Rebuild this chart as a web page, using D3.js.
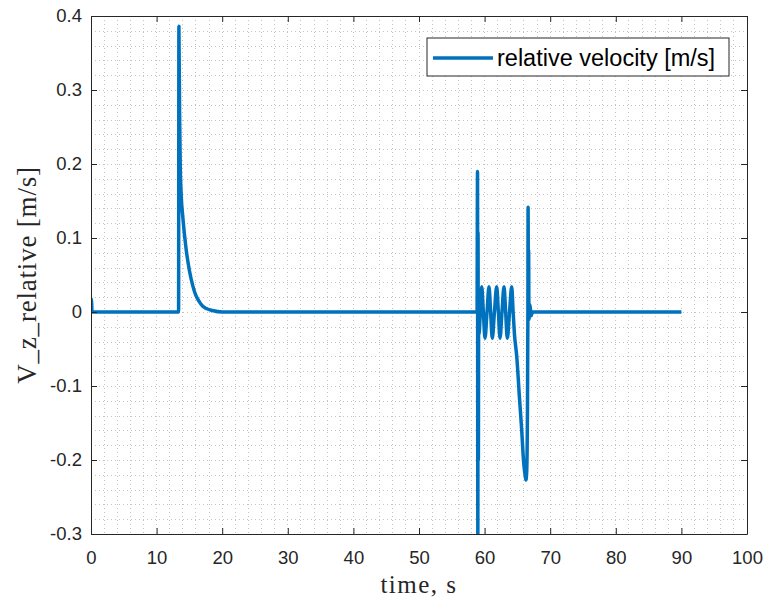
<!DOCTYPE html>
<html>
<head>
<meta charset="utf-8">
<script src="https://cdn.jsdelivr.net/npm/d3@7"></script>
<style>
  body { margin: 0; background: #fff; }
  .tick text { font-family: "Liberation Sans", Arial, sans-serif; font-size: 18.5px; fill: #262626; }
</style>
</head>
<body>
<svg id="chart" width="766" height="601"></svg>
<script>
// time samples [s]
var timeValues = [
  0, 0.05, 0.1, 0.15, 13.35,
  13.4, 13.5, 13.6, 13.75, 14.0, 14.5, 15.0, 15.5, 16.0, 16.5, 17.0, 17.5, 18.5, 20.0,
  58.85, 58.92, 58.97, 59.0, 59.05, 59.1, 59.15, 59.35,
  59.56, 59.81, 60.06, 60.37, 60.67, 60.92, 61.17, 61.5, 61.84, 62.1, 62.35, 62.65,
  62.96, 63.21, 63.46, 63.8, 64.13, 64.35, 64.55, 64.9, 65.3, 65.65, 65.96, 66.2, 66.3,
  66.42, 66.52, 66.6, 66.63, 66.68, 66.71, 66.76, 66.9, 67.1, 67.3, 90
];
// relative velocity [m/s]
var velocityValues = [
  0, 0.018, 0.012, 0, 0,
  0.386, 0.27, 0.2, 0.158, 0.128, 0.085, 0.056, 0.036, 0.022, 0.014, 0.008, 0.005, 0.002, 0,
  0, 0.19, -0.31, 0.108, -0.2, 0.03, -0.03, 0,
  0.034, 0, -0.0355, 0, 0.034, 0, -0.0355, 0, 0.034, 0, -0.0355, 0,
  0.034, 0, -0.0355, 0, 0.034, 0, -0.03, -0.06, -0.114, -0.159, -0.204, -0.222, -0.227,
  -0.215, -0.15, 0, 0.1415, 0, 0.084, -0.01, 0.01, -0.005, 0, 0
];
var xTicks = [0, 10, 20, 30, 40, 50, 60, 70, 80, 90, 100];
var yTicks = [-0.3, -0.2, -0.1, 0, 0.1, 0.2, 0.3, 0.4];
var legendLabel = "relative velocity [m/s]";

var data = timeValues.map(function (t, i) { return {t: t, v: velocityValues[i]}; });

const svg = d3.select("#chart"),
    margin = {top: 16, right: 19, bottom: 67, left: 91},
    width = +svg.attr("width"),
    height = +svg.attr("height"),
    w = width - margin.left - margin.right,
    h = height - margin.top - margin.bottom;

const x = d3.scaleLinear().domain([0, 100]).range([0, w]);
const y = d3.scaleLinear().domain([-0.3, 0.4]).range([h, 0]);

const g = svg.append("g")
    .attr("transform", "translate(" + margin.left + "," + margin.top + ")");

g.append("rect").attr("width", w).attr("height", h).attr("fill", "#fff");

// minor + major grid, all dotted like matlab's grid minor
var xGrid = d3.range(0, 101, 2), yGrid = d3.range(-30, 41, 2).map(function (d) { return d / 100; });
g.append("g").selectAll("line").data(xGrid).enter().append("line")
    .attr("x1", function (d) { return x(d); }).attr("x2", function (d) { return x(d); })
    .attr("y1", 0).attr("y2", h)
    .attr("stroke", "#c4c4c4").attr("stroke-width", 1).attr("stroke-dasharray", "1,3")
    .attr("shape-rendering", "crispEdges");
g.append("g").selectAll("line").data(yGrid).enter().append("line")
    .attr("y1", function (d) { return Math.round(y(d)) + 0.5; }).attr("y2", function (d) { return Math.round(y(d)) + 0.5; })
    .attr("x1", 0).attr("x2", w)
    .attr("stroke", "#c4c4c4").attr("stroke-width", 1).attr("stroke-dasharray", "1,3");

g.append("clipPath").attr("id", "clip")
    .append("rect").attr("width", w).attr("height", h);

var line = d3.line()
    .x(function (d) { return x(d.t); })
    .y(function (d) { return y(d.v); })
    .curve(d3.curveMonotoneX);

g.append("path")
    .datum(data)
    .attr("clip-path", "url(#clip)")
    .attr("fill", "none")
    .attr("stroke", "#0072BD")
    .attr("stroke-width", 3.5)
    .attr("stroke-linejoin", "round")
    .attr("d", line);

// axes with inward ticks, box on; matlab prints a plain hyphen for minus
var fmt = function (d) { return String(Math.round(d * 10) / 10); };
g.append("g").attr("transform", "translate(0," + h + ")")
    .call(d3.axisBottom(x).tickValues(xTicks).tickSizeInner(-6).tickSizeOuter(0).tickPadding(17));
g.append("g")
    .call(d3.axisTop(x).tickValues(xTicks).tickSizeInner(-6).tickSizeOuter(0).tickFormat(""));
g.append("g")
    .call(d3.axisLeft(y).tickValues(yTicks).tickSizeInner(-6).tickSizeOuter(0).tickPadding(9).tickFormat(fmt));
g.append("g").attr("transform", "translate(" + w + ",0)")
    .call(d3.axisRight(y).tickValues(yTicks).tickSizeInner(-6).tickSizeOuter(0).tickFormat(""));
g.selectAll(".domain, .tick line").attr("stroke", "#262626");

// axis labels
svg.append("text")
    .attr("x", margin.left + w / 2).attr("y", 593)
    .attr("text-anchor", "middle")
    .style("font-family", "'Liberation Serif', 'Times New Roman', serif")
    .style("font-size", "25px").style("letter-spacing", "1.5px").attr("fill", "#262626")
    .text("time, s");
svg.append("text")
    .attr("transform", "translate(36," + (margin.top + h / 2) + ") rotate(-90)")
    .attr("text-anchor", "middle")
    .style("font-family", "'Liberation Serif', 'Times New Roman', serif")
    .style("font-size", "27px").style("letter-spacing", "0.8px").attr("fill", "#262626")
    .text("V_z_relative [m/s]");

// legend
var lg = svg.append("g").attr("transform", "translate(427,38)");
lg.append("rect").attr("width", 302).attr("height", 38)
    .attr("fill", "#fff").attr("stroke", "#262626").attr("stroke-width", 1);
lg.append("line").attr("x1", 6).attr("x2", 66).attr("y1", 20).attr("y2", 20)
    .attr("stroke", "#0072BD").attr("stroke-width", 3.5);
lg.append("text").attr("x", 70).attr("y", 28)
    .style("font-family", "'Liberation Sans', Arial, sans-serif")
    .style("font-size", "23.5px").attr("fill", "#000")
    .text(legendLabel);
</script>
</body>
</html>
